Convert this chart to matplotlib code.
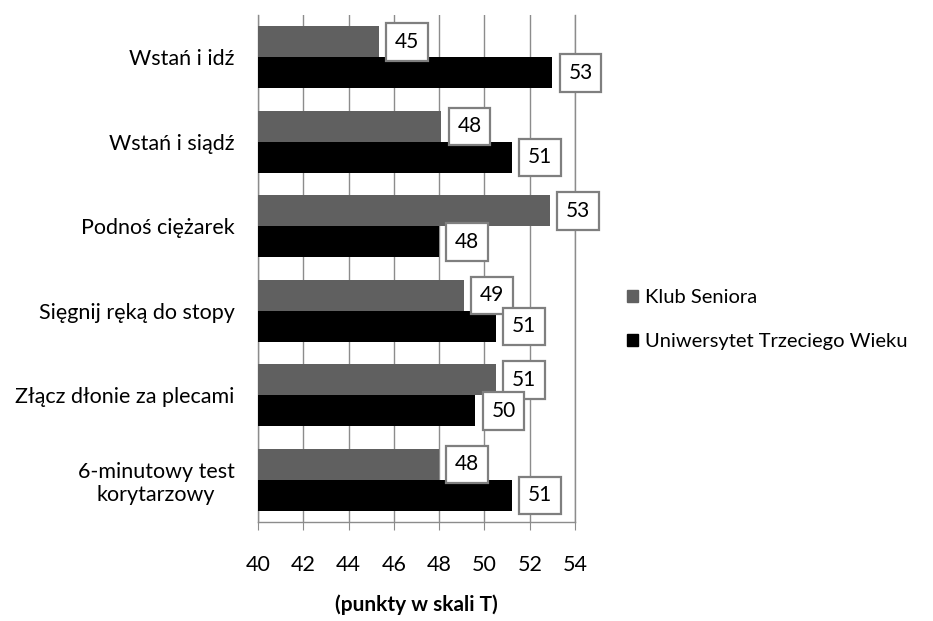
import numpy as np
import matplotlib
matplotlib.use("Agg")
import matplotlib.pyplot as plt
from matplotlib.patches import Patch

plt.rcParams['font.family'] = ['Lato', 'DejaVu Sans']

# dane z wykresu (punkty w skali T)
categories = ["Wstań i idź", "Wstań i siądź", "Podnoś ciężarek",
              "Sięgnij ręką do stopy", "Złącz dłonie za plecami",
              "6-minutowy test\nkorytarzowy"]
klub_values = [45.35, 48.1, 52.9, 49.1, 50.5, 48.0]
utw_values = [53.0, 51.2, 48.0, 50.5, 49.6, 51.2]
klub_labels = ["45", "48", "53", "49", "51", "48"]
utw_labels = ["53", "51", "48", "51", "50", "51"]
series_names = ["Klub Seniora", "Uniwersytet Trzeciego Wieku"]
x_ticks = [40, 42, 44, 46, 48, 50, 52, 54]

klub_color = "#606060"
utw_color = "#000000"
grid_color = "#8c8c8c"

fig = plt.figure(figsize=(9.33, 6.21), dpi=100)
ax = fig.add_axes([0.2766, 0.1594, 0.3397, 0.8164])

y = np.arange(len(categories))
h = 0.367

ax.barh(y - h / 2, klub_values, height=h, color=klub_color, zorder=2)
ax.barh(y + h / 2, utw_values, height=h, color=utw_color, zorder=2)

box = dict(boxstyle="square,pad=0.42", fc="white", ec="#7f7f7f", lw=1.6)
for i in range(len(categories)):
    ax.annotate(klub_labels[i], xy=(klub_values[i], y[i] - h / 2),
                xytext=(16, 0), textcoords="offset pixels",
                ha="left", va="center", fontsize=15, bbox=box, zorder=4)
    ax.annotate(utw_labels[i], xy=(utw_values[i], y[i] + h / 2),
                xytext=(16, 0), textcoords="offset pixels",
                ha="left", va="center", fontsize=15, bbox=box, zorder=4)

ax.set_xlim(40, 54)
ax.set_ylim(len(categories) - 0.5, -0.5)
ax.set_xticks(x_ticks)
ax.set_xticklabels([str(t) for t in x_ticks], fontsize=15.5)
ax.set_yticks(y)
ax.set_yticklabels(categories, fontsize=15.5, multialignment="center")
ax.tick_params(axis="y", length=0, pad=17)
ax.tick_params(axis="x", length=6, color=grid_color, pad=18)

ax.grid(axis="x", color=grid_color, lw=1, zorder=0)
ax.spines["top"].set_visible(False)
for s in ["left", "bottom", "right"]:
    ax.spines[s].set_color(grid_color)
    ax.spines[s].set_linewidth(1)
    ax.spines[s].set_zorder(1)

ax.set_xlabel("(punkty w skali T)", fontsize=15, fontweight="bold", labelpad=14)

handles = [Patch(color=klub_color), Patch(color=utw_color)]
fig.legend(handles, series_names, loc="center left",
           bbox_to_anchor=(0.672, 0.485), frameon=False, fontsize=14.5,
           borderaxespad=0, borderpad=0,
           handlelength=0.55, handleheight=0.55, handletextpad=0.35,
           labelspacing=1.35)

fig.savefig("out.png", dpi=100)
